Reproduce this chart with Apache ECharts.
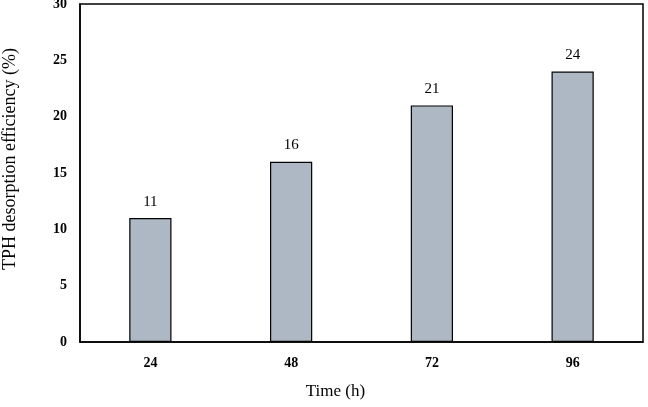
<!DOCTYPE html>
<html>
<head>
<meta charset="utf-8">
<script src="https://cdn.jsdelivr.net/npm/echarts@6/dist/echarts.min.js"></script>
<style>
  html, body { margin: 0; padding: 0; background: #fff; }
  #chart { width: 648px; height: 407px; }
</style>
</head>
<body>
<div id="chart"></div>
<script>
// data
var categories = ['24', '48', '72', '96'];
var efficiency = [11, 16, 21, 24];
var yTicks = [0, 5, 10, 15, 20, 25, 30];

var chart = echarts.init(document.getElementById('chart'), null, { renderer: 'canvas' });

var serif = '"Liberation Serif", "Times New Roman", serif';

var option = {
  backgroundColor: '#fff',
  animation: false,
  grid: {
    left: 80, right: 5, top: 4, bottom: 65,
    outerBoundsMode: 'none',
    containLabel: false,
    show: true, borderColor: '#000', borderWidth: 1.5
  },
  xAxis: {
    type: 'category',
    data: categories,
    name: 'Time (h)',
    nameLocation: 'middle',
    nameGap: 41,
    nameTextStyle: { fontFamily: serif, fontSize: 17, color: '#000', padding: [0, 52, 0, 0] },
    axisLine: { lineStyle: { color: '#000', width: 1.5 } },
    axisTick: { show: false },
    axisLabel: { fontFamily: serif, fontWeight: 'bold', fontSize: 14, color: '#000', margin: 14 }
  },
  yAxis: {
    type: 'value',
    min: yTicks[0],
    max: yTicks[yTicks.length - 1],
    interval: 5,
    name: 'TPH desorption efficiency (%)',
    nameLocation: 'middle',
    nameGap: 61,
    nameTextStyle: { fontFamily: serif, fontSize: 18, color: '#000', padding: [0, 0, 0, 28] },
    axisLine: { show: true, lineStyle: { color: '#000', width: 1.5 } },
    axisTick: { show: false },
    splitLine: { show: false },
    axisLabel: { fontFamily: serif, fontWeight: 'bold', fontSize: 14, color: '#000', margin: 13 }
  },
  series: [{
    type: 'bar',
    data: efficiency,
    barWidth: '30%',
    itemStyle: { color: '#aeb8c5', borderColor: '#000', borderWidth: 1.2 },
    label: {
      show: true,
      position: 'top',
      distance: 9,
      fontFamily: serif,
      fontSize: 15,
      color: '#000'
    }
  }]
};

chart.setOption(option);
</script>
</body>
</html>
